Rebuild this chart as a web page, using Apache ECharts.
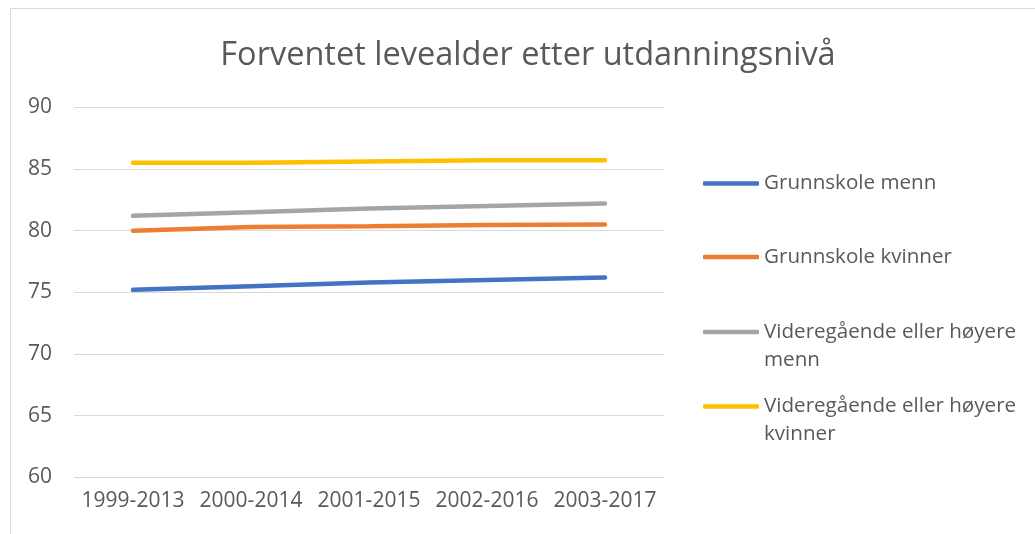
<!DOCTYPE html>
<html>
<head>
<meta charset="utf-8">
<script src="https://cdn.jsdelivr.net/npm/echarts@6/dist/echarts.min.js"></script>
<style>
  html, body { margin: 0; padding: 0; background: #fff; }
  #chart { width: 1035px; height: 534px; }
</style>
</head>
<body>
<div id="chart"></div>
<script>
"use strict"

// values
const categories = ['1999-2013', '2000-2014', '2001-2015', '2002-2016', '2003-2017'];
const grunnskoleMenn = [75.2, 75.5, 75.8, 76.0, 76.2];
const grunnskoleKvinner = [80.0, 80.3, 80.35, 80.45, 80.5];
const videregMenn = [81.2, 81.5, 81.8, 82.0, 82.2];
const videregKvinner = [85.5, 85.5, 85.6, 85.7, 85.7];
const seriesNames = ['Grunnskole menn', 'Grunnskole kvinner', 'Videregående eller høyere menn', 'Videregående eller høyere kvinner'];
const legendLabels = ['Grunnskole menn', 'Grunnskole kvinner', ' \nVideregående eller høyere\nmenn', ' \nVideregående eller høyere\nkvinner'];
const colors = ['#4472C4', '#ED7D31', '#A5A5A5', '#FFC000'];

const font = '"Open Sans", "Noto Sans", sans-serif';
const textColor = '#595959';
const lineH = 28;

let chart = echarts.init(document.getElementById('chart'), null, { renderer: 'canvas' });

// legend item centres (px) for each entry
const legendCentres = [183.5, 257, 332, 406.5];
let legends = [];
for (let i = 0; i < seriesNames.length; i++) {
    let nLines = legendLabels[i].split('\n').length;
    legends.push({
        data: [seriesNames[i]],
        left: 703,
        top: legendCentres[i] - nLines * lineH / 2,
        padding: 0,
        icon: 'roundRect',
        itemWidth: 56,
        itemHeight: 4.5,
        itemGap: 0,
        selectedMode: false,
        formatter: function () { return legendLabels[i]; },
        textStyle: {
            fontFamily: font,
            fontSize: 20.6,
            color: textColor,
            lineHeight: lineH
        }
    });
}

let allData = [grunnskoleMenn, grunnskoleKvinner, videregMenn, videregKvinner];
let series = [];
for (let j = 0; j < allData.length; j++) {
    series.push({
        name: seriesNames[j],
        type: 'line',
        data: allData[j],
        symbol: 'none',
        lineStyle: { width: 4.5, color: colors[j], cap: 'round' },
        itemStyle: { color: colors[j] }
    });
}

let option = {
    animation: false,
    color: colors,
    title: {
        text: 'Forventet levealder etter utdanningsnivå',
        left: 523,
        textAlign: 'center',
        top: 34,
        textStyle: {
            fontFamily: font,
            fontSize: 32.5,
            fontWeight: 'normal',
            color: textColor
        }
    },
    legend: legends,
    grid: {
        left: 74,
        right: 371,
        top: 107.3,
        bottom: 56.7,
        containLabel: false
    },
    xAxis: {
        type: 'category',
        data: categories,
        boundaryGap: true,
        axisLine: { show: false },
        axisTick: { show: false },
        axisLabel: {
            interval: 0,
            hideOverlap: false,
            fontFamily: font,
            fontSize: 21,
            color: textColor,
            margin: 13
        }
    },
    yAxis: {
        type: 'value',
        min: 60,
        max: 90,
        interval: 5,
        axisLine: { show: false },
        axisTick: { show: false },
        axisLabel: {
            fontFamily: font,
            fontSize: 21,
            color: textColor,
            margin: 22
        },
        splitLine: { lineStyle: { color: '#d9d9d9', width: 1 } }
    },
    graphic: [{
        type: 'rect',
        shape: { x: 10.5, y: 8.5, width: 1200, height: 700 },
        style: { fill: null, stroke: '#d9d9d9', lineWidth: 1 },
        silent: true,
        z: -1
    }],
    series: series
};

chart.setOption(option);
</script>
</body>
</html>
